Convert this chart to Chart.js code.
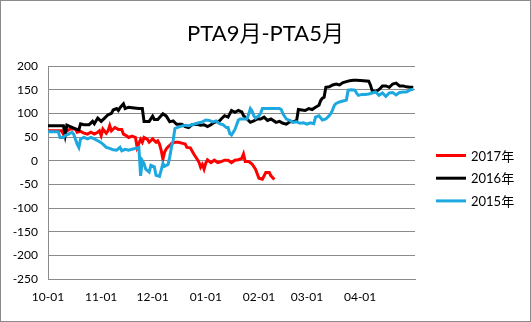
<!DOCTYPE html>
<html>
<head>
<meta charset="utf-8">
<script src="https://cdn.jsdelivr.net/npm/chart.js@4"></script>
<style>
  html, body { margin: 0; padding: 0; background: #fff; }
  #wrap { width: 531px; height: 322px; }
</style>
</head>
<body>
<div id="wrap"><canvas id="grafico" width="531" height="322"></canvas></div>
<script>
// x = days since 10-01, y = spread (PTA9 - PTA5)
const monthStart = [0, 31, 61, 92, 123, 151, 182];
const monthLabels = ["10-01", "11-01", "12-01", "01-01", "02-01", "03-01", "04-01"];
const seriesNames = ["2017年", "2016年", "2015年"];

const s2017 = [[0,63],[8,63],[9,56],[11,63],[13,67],[16,67],[17,60],[19,62],[21,58],[23,56],[25,60],[27,56],[29,60],[30,63],[31,53],[32,67],[34,58],[35,63],[36,74],[37,63],[39,70],[41,66],[43,66],[44,56],[46,52],[47,49],[49,52],[51,49],[52,28],[54,45],[55,39],[56,49],[58,45],[59,39],[61,46],[63,39],[64,42],[65,35],[66,22],[67,3],[68,18],[69,25],[70,29],[71,32],[72,36],[74,39],[76,39],[78,37],[80,35],[81,28],[83,27],[85,14],[87,3],[88,-3],[89,-14],[90,-8],[91,-18],[92,-5],[93,2],[95,-4],[97,1],[99,-4],[101,-2],[103,1],[105,1],[107,-4],[109,1],[111,2],[113,5],[114,14],[115,-2],[117,-2],[119,-7],[121,-18],[123,-37],[125,-39],[127,-25],[129,-25],[130,-32],[132,-40]];

const s2016 = [[0,74],[9,74],[10,54],[11,75],[13,72],[16,67],[18,65],[19,78],[21,76],[24,76],[26,83],[27,78],[29,90],[31,83],[33,90],[35,97],[37,100],[38,107],[40,110],[41,106],[42,112],[44,120],[45,110],[47,113],[49,112],[53,110],[55,110],[56,83],[59,83],[61,94],[62,87],[64,87],[67,99],[69,94],[71,82],[73,84],[75,77],[78,77],[80,72],[82,70],[84,76],[87,77],[89,75],[91,76],[93,72],[95,76],[97,81],[100,84],[101,88],[103,95],[105,92],[107,106],[109,102],[111,106],[113,103],[114,95],[116,88],[118,81],[120,84],[122,88],[124,88],[126,92],[128,85],[130,88],[133,81],[135,83],[137,79],[139,77],[141,82],[143,82],[145,85],[146,108],[148,107],[150,106],[152,110],[154,108],[156,113],[158,117],[159,127],[160,132],[161,134],[162,155],[164,156],[166,160],[168,162],[170,160],[172,165],[174,167],[176,169],[178,170],[180,170],[184,169],[187,168],[188,160],[189,148],[191,146],[193,150],[195,158],[197,158],[199,155],[201,162],[203,164],[205,158],[207,158],[209,156],[211,155],[213,155]];

const s2015 = [[0,61],[6,61],[7,49],[9,49],[10,53],[12,56],[14,60],[15,56],[17,35],[18,28],[19,46],[21,49],[23,46],[25,49],[27,46],[29,42],[31,38],[32,35],[34,28],[36,26],[38,23],[40,22],[42,28],[43,21],[45,24],[47,22],[49,24],[51,26],[53,28],[54,-32],[55,0],[56,-6],[57,-18],[59,-24],[60,-10],[62,-13],[63,-31],[65,-33],[66,-20],[67,-6],[68,-12],[70,-8],[71,8],[72,29],[73,43],[74,68],[76,71],[78,73],[80,75],[82,74],[84,76],[86,78],[88,80],[90,82],[92,86],[94,85],[96,82],[98,84],[100,78],[102,76],[104,70],[105,70],[106,57],[107,54],[108,60],[109,66],[110,76],[111,86],[112,88],[114,88],[116,88],[117,98],[118,110],[119,105],[120,95],[121,90],[123,95],[124,100],[125,110],[127,110],[131,110],[135,110],[136,108],[137,99],[139,88],[141,85],[143,81],[145,82],[147,79],[149,80],[151,77],[153,80],[155,78],[156,92],[158,95],[160,86],[162,88],[164,95],[165,100],[166,108],[167,117],[168,121],[170,124],[172,126],[174,128],[175,149],[177,150],[179,149],[180,142],[181,138],[183,140],[185,140],[187,141],[189,143],[191,145],[193,138],[195,143],[197,136],[199,143],[201,144],[203,139],[205,144],[207,145],[209,145],[211,149],[213,151]];

const cores = ["#FF0000", "#000000", "#1EA8E0"];
const fonte = "Lato, 'Noto Sans CJK SC', sans-serif";

function pontos(serie){
  return serie.map(p => ({ x: p[0], y: p[1] }));
}

// legend on the right + outer frame
const extras = {
  id: "extras",
  afterDraw(chart){
    const ctx = chart.ctx;
    ctx.save();
    chart.data.datasets.forEach((ds, i) => {
      const y = 155.5 + i * 22.7;
      ctx.strokeStyle = ds.borderColor;
      ctx.lineWidth = 3;
      ctx.beginPath();
      ctx.moveTo(436, y);
      ctx.lineTo(466, y);
      ctx.stroke();
      ctx.fillStyle = "#000";
      ctx.font = "13px " + fonte;
      ctx.textBaseline = "middle";
      ctx.fillText(ds.label, 471, y + 1);
    });
    ctx.strokeStyle = "#8a8a8a";
    ctx.lineWidth = 1;
    ctx.strokeRect(0.5, 0.5, 530, 321);
    ctx.restore();
  }
};

const canvas = document.getElementById("grafico");

const chart = new Chart(canvas, {
  type: "line",
  data: {
    datasets: [
      { label: seriesNames[0], data: pontos(s2017), borderColor: cores[0], order: 2 },
      { label: seriesNames[1], data: pontos(s2016), borderColor: cores[1], order: 1 },
      { label: seriesNames[2], data: pontos(s2015), borderColor: cores[2], order: 0 }
    ]
  },
  options: {
    responsive: false,
    animation: false,
    layout: { padding: 0 },
    elements: {
      line: { borderWidth: 3, tension: 0, fill: false },
      point: { radius: 0 }
    },
    plugins: {
      legend: { display: false },
      tooltip: { enabled: false },
      title: {
        display: true,
        text: "PTA9月-PTA5月",
        color: "#000",
        font: { family: fonte, size: 22, weight: "normal" },
        padding: { top: 21, bottom: 18.6 }
      }
    },
    scales: {
      x: {
        type: "linear",
        min: 0,
        max: 214,
        afterBuildTicks: axis => {
          axis.ticks = monthStart.map(v => ({ value: v }));
        },
        afterFit: axis => { axis.height = 43; },
        grid: { display: false, drawTicks: false },
        border: { display: true, color: "#8a8a8a", width: 1 },
        ticks: {
          autoSkip: false,
          maxRotation: 0,
          padding: 11,
          color: "#000",
          font: { family: fonte, size: 12 },
          callback: v => monthLabels[monthStart.indexOf(v)]
        }
      },
      y: {
        min: -250,
        max: 200,
        afterFit: axis => { axis.width = 48; },
        grid: { color: "#8a8a8a", lineWidth: 1, drawTicks: false },
        border: { display: true, color: "#8a8a8a", width: 1 },
        ticks: {
          stepSize: 50,
          padding: 10,
          color: "#000",
          font: { family: fonte, size: 12 }
        }
      },
      // empty strip on the right that holds the legend
      lado: {
        position: "right",
        min: 0,
        max: 1,
        afterFit: axis => { axis.width = 116; },
        grid: { display: false, drawTicks: false },
        border: { display: false },
        ticks: { display: false }
      }
    }
  },
  plugins: [extras]
});
</script>
</body>
</html>
